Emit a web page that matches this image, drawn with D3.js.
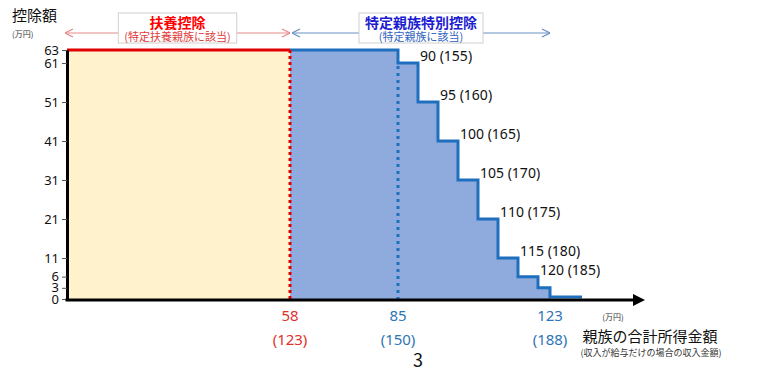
<!DOCTYPE html>
<html lang="ja">
<head>
<meta charset="utf-8">
<title>特定親族特別控除</title>
<script src="https://cdn.jsdelivr.net/npm/d3@7"></script>
<style>
  body { margin: 0; background: #fff; }
  svg { display: block; }
  .jp { font-family: "Noto Sans CJK JP", sans-serif; }
  .num { font-family: "Noto Sans", sans-serif; }
</style>
</head>
<body>
<svg id="chart" width="769" height="377"></svg>
<script>
// 控除額 (万円) の目盛
var yTicks = [0, 3, 6, 11, 21, 31, 41, 51, 61, 63];
// 扶養控除の範囲 (親族の合計所得, 万円)
var fuyouIncome = [0, 58];
var fuyouValue = 63;
// 特定親族特別控除: 所得の区切り と その区間の控除額
var stepIncome = [58, 85, 90, 95, 100, 105, 110, 115, 120, 123, 131];
var stepValue  = [63, 61, 51, 41, 31, 21, 11, 6, 3, 0, 0];
// 段の注記 (所得 と 給与収入)
var labelIncome = [90, 95, 100, 105, 110, 115, 120];
var labelSalary = [155, 160, 165, 170, 175, 180, 185];
// 横軸の目盛 (所得 と 給与収入)
var xTickIncome = [58, 85, 123];
var xTickSalary = [123, 150, 188];

var svg = d3.select("#chart");

var red = "#e00000", blue = "#1f6fbf";

var x = d3.scaleLinear().domain([0, 58, 131]).range([67, 290, 582]);
var y = d3.scaleLinear().domain([0, 11, 61, 63]).range([299, 258, 63, 50]);

// 扶養控除 (黄色)
var fuyouData = fuyouIncome.map(function(d){ return [d, fuyouValue]; });
svg.append("path")
  .datum(fuyouData)
  .attr("fill", "#fff2cc")
  .attr("d", d3.area().x(function(d){ return x(d[0]); }).y0(y(0)).y1(function(d){ return y(d[1]); }));

// 特定親族特別控除 (青の階段)
var steps = stepIncome.map(function(d, i){ return [d, stepValue[i]]; });
svg.append("path")
  .datum(steps)
  .attr("fill", "#8faadc")
  .attr("d", d3.area().curve(d3.curveStepAfter)
    .x(function(d){ return x(d[0]); }).y0(y(0)).y1(function(d){ return y(d[1]); }));
svg.append("path")
  .datum(steps)
  .attr("fill", "none")
  .attr("stroke", blue)
  .attr("stroke-width", 3)
  .attr("d", d3.line().curve(d3.curveStepAfter)
    .x(function(d){ return x(d[0]); }).y(function(d){ return Math.min(y(d[1]), y(0) - 2); }));

// 赤の上辺
svg.append("path")
  .datum(fuyouData)
  .attr("fill", "none")
  .attr("stroke", red)
  .attr("stroke-width", 3)
  .attr("d", d3.line().x(function(d){ return x(d[0]); }).y(function(d){ return y(d[1]); }));

// 点線
svg.append("line")
  .attr("x1", x(58)).attr("x2", x(58))
  .attr("y1", y(63)).attr("y2", y(0))
  .attr("stroke", red).attr("stroke-width", 3).attr("stroke-dasharray", "3,3");
svg.append("line")
  .attr("x1", x(85)).attr("x2", x(85))
  .attr("y1", y(61) + 3).attr("y2", y(0))
  .attr("stroke", blue).attr("stroke-width", 3).attr("stroke-dasharray", "3,4");

// 縦軸
var yAxis = svg.append("g")
  .attr("transform", "translate(" + x(0) + ",0)")
  .call(d3.axisLeft(y).tickValues(yTicks).tickSize(5).tickSizeOuter(0).tickPadding(3));
yAxis.select(".domain").attr("stroke", "#000").attr("stroke-width", 3);
yAxis.selectAll(".tick line").attr("stroke", "#555");
yAxis.selectAll(".tick text")
  .attr("class", "num")
  .attr("font-size", 13)
  .attr("fill", "#111");

// 横軸 (矢印)
var axisY = y(0) + 1;
svg.append("line")
  .attr("x1", x(0) - 1.5).attr("x2", 636)
  .attr("y1", axisY).attr("y2", axisY)
  .attr("stroke", "#000").attr("stroke-width", 3);
svg.append("path")
  .attr("d", "M633," + (axisY - 6) + "L645," + axisY + "L633," + (axisY + 6) + "Z")
  .attr("fill", "#000");

// 横軸の目盛ラベル
var xt = svg.selectAll(".xtick")
  .data(xTickIncome)
  .enter()
  .append("text")
  .attr("class", "xtick num")
  .attr("text-anchor", "middle")
  .attr("font-size", 15)
  .attr("fill", function(d){ return d <= 58 ? "#e0312d" : "#2e75b6"; });
xt.append("tspan")
  .attr("x", function(d){ return x(d); })
  .attr("y", 321)
  .text(function(d){ return d; });
xt.append("tspan")
  .attr("x", function(d){ return x(d); })
  .attr("y", 345)
  .text(function(d, i){ return "(" + xTickSalary[i] + ")"; });

// 段の注記
svg.selectAll(".steplabel")
  .data(labelIncome)
  .enter()
  .append("text")
  .attr("class", "steplabel num")
  .attr("x", function(d){ return x(d) + 2; })
  .attr("y", function(d){ return y(stepValue[stepIncome.indexOf(d) - 1]) - 2; })
  .attr("font-size", 14)
  .attr("fill", "#111")
  .text(function(d, i){ return d + " (" + labelSalary[i] + ")"; });

// 上部の矢印と見出し
var defs = svg.append("defs");
function chevron(id, color, dir) {
  var m = defs.append("marker")
    .attr("id", id)
    .attr("viewBox", "0 0 10 10")
    .attr("refX", dir > 0 ? 10 : 0).attr("refY", 5)
    .attr("markerWidth", 10).attr("markerHeight", 10)
    .attr("markerUnits", "userSpaceOnUse")
    .attr("orient", "0");
  m.append("path")
    .attr("d", dir > 0 ? "M2,1L10,5L2,9" : "M8,1L0,5L8,9")
    .attr("fill", "none").attr("stroke", color).attr("stroke-width", 1.2);
}
chevron("rEnd", "#e68a8a", 1);
chevron("rStart", "#e68a8a", -1);
chevron("bEnd", "#6a93c0", 1);
chevron("bStart", "#6a93c0", -1);

function bracket(x0, x1, color, mStart, mEnd, title, titleColor, sub, subColor) {
  svg.append("line")
    .attr("x1", x0).attr("x2", x1).attr("y1", 33).attr("y2", 33)
    .attr("stroke", color).attr("stroke-width", 1.2)
    .attr("marker-start", "url(#" + mStart + ")")
    .attr("marker-end", "url(#" + mEnd + ")");
  var g = svg.append("g");
  var box = g.append("rect").attr("fill", "#fff").attr("stroke", "#d0d0d0");
  var cx = (x0 + x1) / 2;
  var t1 = g.append("text").attr("class", "jp")
    .attr("x", cx).attr("y", 28).attr("text-anchor", "middle")
    .attr("font-size", 14).attr("font-weight", "bold").attr("fill", titleColor).text(title);
  var t2 = g.append("text").attr("class", "jp")
    .attr("x", cx).attr("y", 41).attr("text-anchor", "middle")
    .attr("font-size", 11).attr("fill", subColor).text(sub);
  var w = Math.max(t1.node().getBBox().width, t2.node().getBBox().width) + 12;
  box.attr("x", cx - w / 2).attr("y", 13).attr("width", w).attr("height", 30);
}
bracket(x(0) - 2, x(58), "#e68a8a", "rStart", "rEnd", "扶養控除", "#ff0000", "(特定扶養親族に該当)", "#e03c3c");
bracket(x(58) + 2, x(123), "#6a93c0", "bStart", "bEnd", "特定親族特別控除", "#1c1cd0", "(特定親族に該当)", "#2f62c0");

// 軸タイトル
svg.append("text").attr("class", "jp")
  .attr("x", 12).attr("y", 21).attr("font-size", 15).attr("fill", "#111").text("控除額");
svg.append("text").attr("class", "jp")
  .attr("x", 12).attr("y", 37).attr("font-size", 8).attr("fill", "#333").text("(万円)");
svg.append("text").attr("class", "jp")
  .attr("x", 613).attr("y", 320).attr("text-anchor", "middle")
  .attr("font-size", 8).attr("fill", "#333").text("(万円)");
svg.append("text").attr("class", "jp")
  .attr("x", 650).attr("y", 342).attr("text-anchor", "middle")
  .attr("font-size", 15).attr("fill", "#111").text("親族の合計所得金額");
svg.append("text").attr("class", "jp")
  .attr("x", 651).attr("y", 356).attr("text-anchor", "middle")
  .attr("font-size", 9).attr("fill", "#333").text("(収入が給与だけの場合の収入金額)");

// ページ番号
svg.append("text").attr("class", "jp")
  .attr("x", 418).attr("y", 367).attr("text-anchor", "middle")
  .attr("font-size", 18).attr("fill", "#111").text("3");
</script>
</body>
</html>
